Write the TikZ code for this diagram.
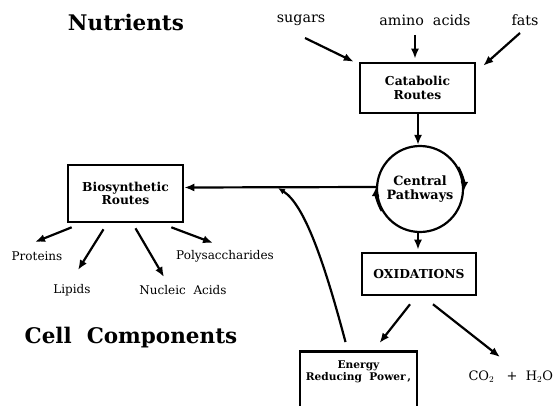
\documentclass[tikz,border=0pt]{standalone}
\usepackage{fontspec}
\setmainfont{DejaVu Serif}
\usetikzlibrary{arrows.meta}
\begin{document}
\begin{tikzpicture}[x=1pt,y=1pt,
  arr/.style={line width=2.2pt,-{Latex[length=10pt,width=8pt]}},
  boxnode/.style={draw,line width=2.6pt,inner sep=0pt,align=center,font=\fontsize{12.3}{13.5}\selectfont\bfseries},
  lbl/.style={font=\fontsize{12}{14}\selectfont},
  toplbl/.style={font=\fontsize{14.3}{16}\selectfont},
  head/.style={font=\fontsize{21.5}{24}\selectfont\bfseries}]
\useasboundingbox (0,0) rectangle (553,405);
% headings
\node[head] (nut) at (126,383) {Nutrients};
\node[head] (cell) at (131,67) {Cell\ \ Components};
% nutrients
\node[toplbl] (sug) at (301,385) {sugars};
\node[toplbl] (ami) at (425,385) {amino\ \ acids};
\node[toplbl] (fat) at (525,385) {fats};
% boxes
\node[boxnode,minimum width=115pt,minimum height=50pt] (cat) at (417.5,317) {Catabolic\\Routes};
\node[draw,circle,line width=2.2pt,minimum size=86pt,inner sep=0pt,align=center,font=\fontsize{12.8}{14}\selectfont\bfseries] (cp) at (420,216) {Central\\Pathways};
\node[boxnode,minimum width=115pt,minimum height=57pt] (bio) at (125.5,211.5) {Biosynthetic\\Routes};
\node[boxnode,minimum width=114pt,minimum height=42pt] (oxi) at (419,131) {OXIDATIONS};
\node[draw,line width=2.6pt,minimum width=117pt,minimum height=70pt,anchor=north,inner sep=0pt] (en) at (358.5,55) {};
\node[align=center,font=\fontsize{10.6}{12}\selectfont\bfseries,anchor=north] (entxt) at ([yshift=-7pt]en.north) {Energy\\Reducing\ \ Power\,,};
% products
\node[lbl] (pro) at (37,149) {Proteins};
\node[lbl] (lip) at (72,115) {Lipids};
\node[lbl] (nuc) at (183,115) {Nucleic\ \ Acids};
\node[lbl] (pol) at (225,149) {Polysaccharides};
\node[font=\fontsize{13}{15}\selectfont,anchor=west] (co) at (465,28) {CO$_2$ \ \ + \ H$_2$O};
% arrows in
\draw[arr] ([xshift=4pt,yshift=-18pt]sug.center) -- ([xshift=-5pt]cat.north west);
\draw[arr] ([xshift=-10pt,yshift=-15pt]ami.center) -- ([xshift=-2.5pt,yshift=3pt]cat.north);
\draw[arr] ([xshift=-5pt,yshift=-13pt]fat.center) -- ([xshift=7pt,yshift=-4pt]cat.north east);
\draw[arr] ([xshift=0.5pt]cat.south) -- ([xshift=-2pt]cp.north);
\draw[arr] ([xshift=-2pt]cp.south) -- ([xshift=-1pt,yshift=2pt]oxi.north);
% circle arrows
\draw[line width=2.2pt,-{Latex[length=9pt,width=8pt]}] (cp.210) arc[start angle=210,end angle=177,radius=43pt];
\draw[line width=2.2pt,-{Latex[length=9pt,width=8pt]}] (cp.30) arc[start angle=30,end angle=-3,radius=43pt];
% to biosynthetic
\draw[arr] ([yshift=2pt]cp.west) -- ([yshift=6pt]bio.east);
\coordinate (join) at (278,217);
\draw[line width=2.2pt,-{Latex[length=7pt,width=6pt]}] ([xshift=-13pt,yshift=8pt]en.north) .. controls (325,140) and (305,200) .. (join);
% oxidation out
\draw[arr] ([xshift=-9pt,yshift=-8pt]oxi.south) -- ([xshift=21pt,yshift=7pt]en.north);
\draw[arr] ([xshift=14pt,yshift=-8pt]oxi.south) -- ([xshift=35pt,yshift=20pt]co.west);
% biosynthetic out
\draw[arr] ([xshift=5pt,yshift=-4pt]bio.south west) -- ([xshift=-2pt,yshift=14pt]pro.center);
\draw[arr] ([xshift=-22pt,yshift=-6pt]bio.south) -- ([xshift=6pt,yshift=20pt]lip.center);
\draw[arr] ([xshift=10pt,yshift=-5pt]bio.south) -- ([xshift=-19pt,yshift=13pt]nuc.center);
\draw[arr] ([xshift=-13pt,yshift=-4pt]bio.south east) -- ([xshift=-12pt,yshift=13pt]pol.center);
\end{tikzpicture}
\end{document}
